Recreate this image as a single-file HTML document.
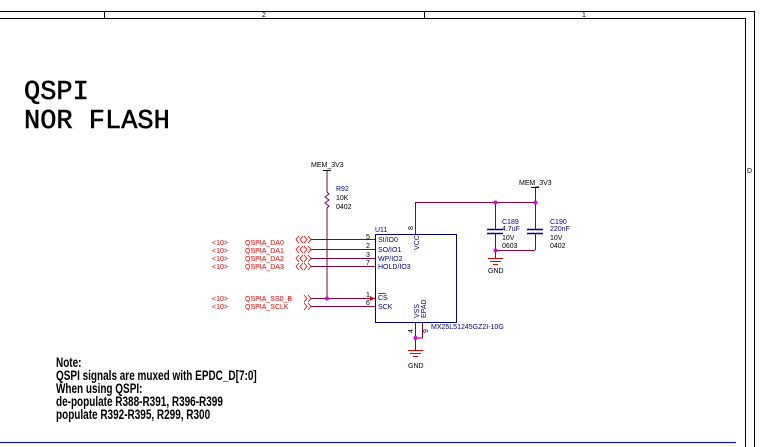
<!DOCTYPE html>
<html><head><meta charset="utf-8"><style>
html,body{margin:0;padding:0;background:#fff;width:767px;height:447px;overflow:hidden}
svg{display:block}
.r{fill:#e00000;font-family:"Liberation Sans",sans-serif;font-size:7px}
.b{fill:#000080;font-family:"Liberation Sans",sans-serif;font-size:7px}
.k{fill:#000;font-family:"Liberation Sans",sans-serif;font-size:7px}
</style></head><body>
<svg width="767" height="447" viewBox="0 0 767 447" xmlns="http://www.w3.org/2000/svg">
<g stroke="#000" stroke-width="1" fill="none">
<line x1="0" y1="11.5" x2="754.5" y2="11.5"/>
<line x1="0" y1="18.5" x2="745.5" y2="18.5"/>
<line x1="754.5" y1="11" x2="754.5" y2="447"/>
<line x1="745.5" y1="18" x2="745.5" y2="447"/>
<line x1="104.5" y1="11" x2="104.5" y2="18"/>
<line x1="424.5" y1="11" x2="424.5" y2="18"/>
</g>
<text x="262" y="17" class="k" font-size="5">2</text>
<text x="582" y="17" class="k" font-size="5">1</text>
<text x="747" y="173" class="k" font-size="5">D</text>
<line x1="0" y1="442.5" x2="736" y2="442.5" stroke="#1a1aa0" stroke-width="1.2"/>
<text x="24" y="99" font-family="Liberation Mono,monospace" font-size="27" fill="#000" stroke="#000" stroke-width="0.6">QSPI</text>
<text x="24" y="128" font-family="Liberation Mono,monospace" font-size="27" fill="#000" stroke="#000" stroke-width="0.6">NOR FLASH</text>
<g font-family="Liberation Sans,sans-serif" font-size="13.5" font-weight="bold" fill="#000" transform="translate(56,0) scale(0.74,1)">
<text x="0" y="367">Note:</text>
<text x="0" y="380">QSPI signals are muxed with EPDC_D[7:0]</text>
<text x="0" y="393">When using QSPI:</text>
<text x="0" y="406">de-populate R388-R391, R396-R399</text>
<text x="0" y="419">populate R392-R395, R299, R300</text>
</g>
<g stroke="#800040" stroke-width="1" fill="none">
<line x1="327" y1="170" x2="327" y2="192"/>
<polyline points="327,192 329,194 325,197 329,200 325,203 329,206 327,208"/>
<line x1="327" y1="208" x2="327" y2="298"/>
<line x1="311" y1="239.5" x2="375" y2="239.5"/>
<line x1="311" y1="249.5" x2="375" y2="249.5"/>
<line x1="311" y1="258.5" x2="375" y2="258.5"/>
<line x1="311" y1="266.5" x2="375" y2="266.5"/>
<line x1="311" y1="298.5" x2="375" y2="298.5"/>
<line x1="311" y1="306.5" x2="375" y2="306.5"/>
<line x1="415.5" y1="202.5" x2="415.5" y2="234"/>
<line x1="415" y1="202.5" x2="535" y2="202.5"/>
<line x1="535.5" y1="187" x2="535.5" y2="229"/>
<line x1="495.5" y1="202" x2="495.5" y2="229"/>
<line x1="495.5" y1="234" x2="495.5" y2="258"/>
<line x1="535.5" y1="234" x2="535.5" y2="250"/>
<line x1="495" y1="250.5" x2="535" y2="250.5"/>
<line x1="415.5" y1="322" x2="415.5" y2="350"/>
<polyline points="422.5,322 422.5,338 415.5,338"/>
</g>
<g stroke="#000" stroke-width="1" fill="none">
<line x1="323" y1="170.5" x2="331" y2="170.5"/>
<line x1="531" y1="187.5" x2="539" y2="187.5"/>
<line x1="487" y1="229.5" x2="503" y2="229.5" stroke="#000080" stroke-width="1.5"/>
<line x1="487" y1="233.5" x2="503" y2="233.5" stroke="#000080" stroke-width="1.5"/>
<line x1="527" y1="229.5" x2="543" y2="229.5" stroke="#000080" stroke-width="1.5"/>
<line x1="527" y1="233.5" x2="543" y2="233.5" stroke="#000080" stroke-width="1.5"/>
</g>
<g stroke="#e00000" stroke-width="1">
<line x1="488" y1="258.5" x2="503" y2="258.5"/><line x1="490" y1="261.5" x2="501" y2="261.5"/><line x1="493" y1="264.5" x2="498" y2="264.5"/>
<line x1="408" y1="350.5" x2="423" y2="350.5"/><line x1="410" y1="353.5" x2="421" y2="353.5"/><line x1="413" y1="356.5" x2="418" y2="356.5"/>
</g>
<text x="488" y="273" class="k" font-size="6.5">GND</text>
<text x="408" y="368" class="k" font-size="6.5">GND</text>
<g fill="#e000e0">
<circle cx="327" cy="298.5" r="2"/><circle cx="495.5" cy="202.5" r="2"/><circle cx="535.5" cy="202.5" r="2"/><circle cx="495.5" cy="250.5" r="2"/><circle cx="415.5" cy="338" r="2"/>
</g>
<rect x="375.5" y="234.5" width="81" height="88" fill="none" stroke="#000080" stroke-width="1"/>
<polygon points="370,296 375,298.5 370,301" fill="#e00000"/>
<text x="375" y="232" class="b">U11</text>
<text x="378" y="242" class="b">SI/IO0</text>
<text x="378" y="252" class="b">SO/IO1</text>
<text x="378" y="261" class="b">WP/IO2</text>
<text x="378" y="269" class="b">HOLD/IO3</text>
<text x="378" y="300" class="b">CS</text>
<line x1="378" y1="293.5" x2="386" y2="293.5" stroke="#000080" stroke-width="0.7"/>
<text x="378" y="309" class="b">SCK</text>
<text x="366" y="239" class="k" font-size="6">5</text>
<text x="366" y="248" class="k" font-size="6">2</text>
<text x="366" y="257" class="k" font-size="6">3</text>
<text x="366" y="265" class="k" font-size="6">7</text>
<text x="366" y="297" class="k" font-size="6">1</text>
<text x="366" y="305" class="k" font-size="6">6</text>
<text transform="translate(419,250) rotate(-90)" class="b">VCC</text>
<text transform="translate(413,230) rotate(-90)" class="k" font-size="6">8</text>
<text transform="translate(419,318) rotate(-90)" class="b">VSS</text>
<text transform="translate(426,318) rotate(-90)" class="b">EPAD</text>
<text transform="translate(413,333) rotate(-90)" class="k" font-size="6">4</text>
<text transform="translate(428,333) rotate(-90)" class="k" font-size="6">9</text>
<text x="431" y="329" class="b" font-size="6.5">MX25L51245GZ2I-10G</text>
<text x="311" y="167" class="k" font-size="6.5">MEM_3V3</text>
<text x="519" y="185" class="k" font-size="6.5">MEM_3V3</text>
<text x="336" y="191" class="b" font-size="6.5">R92</text>
<text x="336" y="200" class="k" font-size="6.5">10K</text>
<text x="336" y="209" class="k" font-size="6">0402</text>
<text x="502" y="224" class="b" font-size="6.5">C189</text>
<text x="502" y="231" class="b" font-size="6.5">4.7uF</text>
<text x="502" y="240" class="k" font-size="6.5">10V</text>
<text x="502" y="248" class="k" font-size="6">0603</text>
<text x="550" y="224" class="b" font-size="6.5">C190</text>
<text x="550" y="231" class="b" font-size="6.5">220nF</text>
<text x="550" y="240" class="k" font-size="6.5">10V</text>
<text x="550" y="248" class="k" font-size="6">0402</text>
<g>
<text x="212" y="245" class="r" font-size="6">&lt;10&gt;</text><text x="245" y="245" class="r">QSPIA_DA0</text>
<text x="212" y="253" class="r" font-size="6">&lt;10&gt;</text><text x="245" y="253" class="r">QSPIA_DA1</text>
<text x="212" y="261" class="r" font-size="6">&lt;10&gt;</text><text x="245" y="261" class="r">QSPIA_DA2</text>
<text x="212" y="269" class="r" font-size="6">&lt;10&gt;</text><text x="245" y="269" class="r">QSPIA_DA3</text>
<text x="212" y="301" class="r" font-size="6">&lt;10&gt;</text><text x="245" y="301" class="r">QSPIA_SS0_B</text>
<text x="212" y="309" class="r" font-size="6">&lt;10&gt;</text><text x="245" y="309" class="r">QSPIA_SCLK</text>
</g>
<g stroke="#e00000" stroke-width="0.8" fill="none">
<path d="M299,236 l-3,3.5 l3,3.5 M303,236 l-3,3.5 l3,3.5 M304,236 l3,3.5 l-3,3.5 M308,236 l3,3.5 l-3,3.5"/>
<path d="M299,246 l-3,3.5 l3,3.5 M303,246 l-3,3.5 l3,3.5 M304,246 l3,3.5 l-3,3.5 M308,246 l3,3.5 l-3,3.5"/>
<path d="M299,255 l-3,3.5 l3,3.5 M303,255 l-3,3.5 l3,3.5 M304,255 l3,3.5 l-3,3.5 M308,255 l3,3.5 l-3,3.5"/>
<path d="M299,263 l-3,3.5 l3,3.5 M303,263 l-3,3.5 l3,3.5 M304,263 l3,3.5 l-3,3.5 M308,263 l3,3.5 l-3,3.5"/>
<path d="M304,295 l3,3.5 l-3,3.5 M308,295 l3,3.5 l-3,3.5"/>
<path d="M304,303 l3,3.5 l-3,3.5 M308,303 l3,3.5 l-3,3.5"/>
</g>
</svg>
</body></html>
